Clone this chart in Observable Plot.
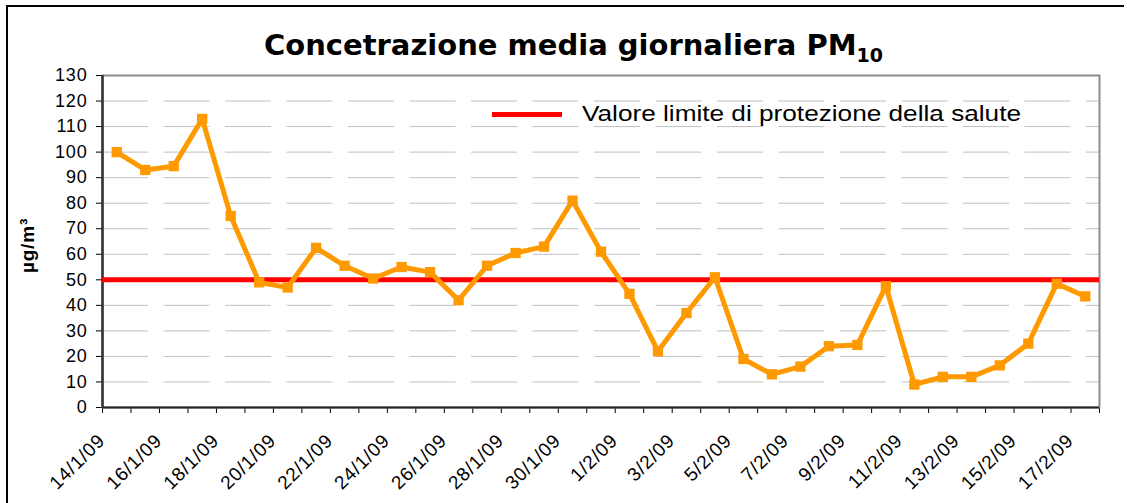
<!DOCTYPE html>
<html>
<head>
<meta charset="utf-8">
<script src="https://cdn.jsdelivr.net/npm/d3@7"></script>
<script src="https://cdn.jsdelivr.net/npm/@observablehq/plot@0.6"></script>
<style>
  html, body { margin: 0; padding: 0; background: #fff; }
  #wrap { position: relative; width: 1127px; height: 503px; overflow: hidden; }
  #frame { position: absolute; left: 6px; top: 5px; width: 1116px; height: 520px;
           border-left: 2px solid #000; border-top: 2px solid #000; }
  #title { position: absolute; left: 0; width: 1147px; top: 28px; text-align: center;
           font-family: "DejaVu Sans", Verdana, sans-serif; font-weight: bold; font-size: 29px;
           color: #000; white-space: nowrap; line-height: 34px; }
  #title sub { font-size: 19px; vertical-align: -7px; line-height: 0; }
  #legend { position: absolute; left: 492px; top: 100px; height: 28px; white-space: nowrap; }
  #legend .sw { position: absolute; left: 0; top: 11.5px; width: 70px; height: 5px; background: #ff0000; }
  #legend .lab { position: absolute; left: 90px; top: 1px; font-family: "Liberation Sans", Arial, sans-serif;
                 font-size: 22px; color: #000; transform: scaleX(1.19); transform-origin: left center; }
  #chart { position: absolute; left: 0; top: 0; }
  #chart svg text { letter-spacing: 0.8px; }
</style>
</head>
<body>
<div id="wrap">
  <div id="chart"></div>
  <div id="frame"></div>
  <div id="title">Concetrazione media giornaliera PM<sub>10</sub></div>
  <div id="legend"><div class="sw"></div><div class="lab">Valore limite di protezione della salute</div></div>
</div>
<script>
// ---- data ----
const dates = [
  "14/1/09","15/1/09","16/1/09","17/1/09","18/1/09","19/1/09","20/1/09","21/1/09","22/1/09",
  "23/1/09","24/1/09","25/1/09","26/1/09","27/1/09","28/1/09","29/1/09","30/1/09","31/1/09",
  "1/2/09","2/2/09","3/2/09","4/2/09","5/2/09","6/2/09","7/2/09","8/2/09","9/2/09",
  "10/2/09","11/2/09","12/2/09","13/2/09","14/2/09","15/2/09","16/2/09","17/2/09"
];
const pm10 = [
  100, 93, 94.5, 113, 75, 49, 47, 62.5, 55.5,
  50.5, 55, 53, 42, 55.5, 60.5, 63, 81, 61,
  44.5, 22, 37, 51, 19, 13, 16, 24, 24.5,
  47.5, 9, 12, 12, 16.5, 25, 48.5, 43.5
];
const limitValue = 50;
const yTicks = [0,10,20,30,40,50,60,70,80,90,100,110,120,130];
const yLabel = "µg/m³";

// ---- build ----
const data = pm10.map((v, i) => ({i, date: dates[i], v}));
const xDomain = [-0.5, dates.length - 0.5];
const boundaries = d3.range(dates.length + 1).map(k => k - 0.5);
const labelIdx = d3.range(0, dates.length, 2);
const gridVals = yTicks.filter(t => t > 0 && t < d3.max(yTicks));

const chart = Plot.plot({
  width: 1127,
  height: 503,
  marginLeft: 102,
  marginRight: 28,
  marginTop: 75,
  marginBottom: 96,
  style: {fontFamily: "'Liberation Sans', Arial, sans-serif", fontSize: "18px", color: "#000", background: "transparent"},
  x: {domain: xDomain, ticks: boundaries, tickSize: 6, tickFormat: () => "", label: null},
  y: {domain: [0, d3.max(yTicks)], ticks: yTicks, tickSize: 6, tickPadding: 9, label: null},
  marks: [
    Plot.ruleY(gridVals, {stroke: "#c0c0c0", strokeOpacity: 1, strokeWidth: 1, strokeDasharray: "46,15.5"}),
    Plot.frame({stroke: "#8c8c8c", strokeWidth: 2}),
    Plot.ruleY([0], {stroke: "#222", strokeWidth: 2}),
    Plot.ruleX([xDomain[0]], {stroke: "#333", strokeWidth: 2.5}),
    Plot.ruleY([limitValue], {stroke: "#ff0000", strokeWidth: 5}),
    Plot.line(data, {x: "i", y: "v", stroke: "#ff9900", strokeWidth: 5, title: d => `${d.date}: ${d.v}`}),
    Plot.dot(data, {x: "i", y: "v", symbol: "square", r: 5.8, fill: "#ff9900", stroke: "none"}),
    Plot.text(labelIdx, {x: d => d, y: () => 0, text: d => dates[d], rotate: -45, textAnchor: "end",
                         dx: -15, dy: 30, fontSize: 19, fill: "#000"}),
    Plot.text([yLabel], {frameAnchor: "left", textAnchor: "middle", rotate: -90, dx: -75, dy: 4,
                         fontWeight: "bold", fontSize: 19, fill: "#000"})
  ]
});
document.getElementById("chart").appendChild(chart);
</script>
</body>
</html>
